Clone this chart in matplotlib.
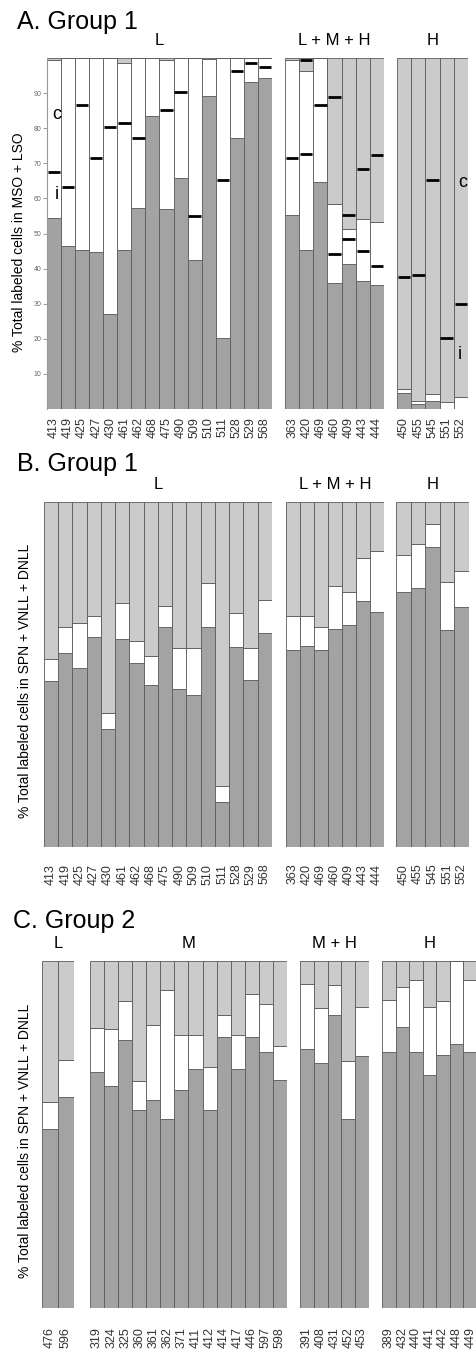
import matplotlib
matplotlib.use("Agg")
import matplotlib.pyplot as plt
import numpy as np

plt.rcParams['font.family'] = ['Liberation Sans', 'DejaVu Sans']

W, H = 477, 1357
DARK = '#a3a3a3'
LIGHT = '#cbcbcb'
EDGE = '#5a5a5a'

# ---- panel A: MSO + LSO, group 1 ----
a_L_ids = ['413', '419', '425', '427', '430', '461', '462', '468', '475', '490', '509', '510', '511', '528', '529', '568']
a_L_dark = [54.3, 46.3, 45.3, 44.6, 27.2, 45.3, 57.4, 83.5, 57.0, 65.7, 42.4, 89.3, 20.2, 77.1, 93.3, 94.4]
a_L_wtop = [99.4, 100, 100, 100, 100, 98.5, 100, 100, 99.5, 100, 100, 99.6, 100, 100, 100, 100]
a_L_mark = [67.6, 63.2, 86.6, 71.6, 80.4, 81.4, 77.3, np.nan, 85.1, 90.3, 54.9, np.nan, 65.2, 96.4, 98.6, 97.5]

a_LMH_ids = ['363', '420', '469', '460', '409', '443', '444']
a_LMH_dark = [55.4, 45.4, 64.7, 35.9, 41.3, 36.4, 35.2]
a_LMH_wtop = [99.4, 96.4, 100, 58.3, 51.3, 54.2, 53.2]
a_LMH_mark_hi = [71.4, 99.4, 86.7, 88.8, 55.4, 68.4, 72.4]
a_LMH_mark_lo = [np.nan, 72.6, np.nan, 44.2, 48.3, 45.1, 40.7]

a_H_ids = ['450', '455', '545', '551', '552']
a_H_dark = [4.6, 1.3, 2.2, 0, 0]
a_H_wtop = [5.8, 2.2, 4.3, 1.9, 3.4]
a_H_mark = [37.7, 38.2, 65.2, 20.1, 30.0]

# ---- panel B: SPN + VNLL + DNLL, group 1 ----
b_L_dark = [48.1, 56.3, 52.0, 61.0, 34.2, 60.4, 53.2, 47.0, 63.9, 45.9, 44.0, 63.9, 13.0, 58.0, 48.3, 62.1]
b_L_wtop = [54.4, 63.7, 64.8, 67.0, 38.8, 70.7, 59.7, 55.5, 69.8, 57.7, 57.7, 76.6, 17.7, 67.8, 57.7, 71.6]
b_LMH_dark = [57.2, 58.4, 57.2, 63.1, 64.3, 71.3, 68.1]
b_LMH_wtop = [67.0, 67.0, 63.8, 75.7, 73.9, 83.8, 85.7]
b_H_dark = [74.0, 75.1, 87.0, 62.8, 69.6]
b_H_wtop = [84.6, 87.9, 93.7, 76.8, 79.9]

# ---- panel C: SPN + VNLL + DNLL, group 2 ----
c_L_ids = ['476', '596']
c_L_dark = [51.7, 60.9]
c_L_wtop = [59.5, 71.4]
c_M_ids = ['319', '324', '325', '360', '361', '362', '371', '411', '412', '414', '417', '446', '597', '598']
c_M_dark = [67.9, 63.9, 77.1, 57.0, 59.9, 54.5, 62.7, 68.8, 57.0, 78.0, 68.8, 78.0, 73.7, 65.8]
c_M_wtop = [80.7, 80.5, 88.6, 65.4, 81.5, 91.5, 78.6, 78.6, 69.5, 84.5, 78.6, 90.5, 87.6, 75.4]
c_MH_ids = ['391', '408', '431', '452', '453']
c_MH_dark = [74.6, 70.7, 84.5, 54.5, 72.7]
c_MH_wtop = [93.4, 86.5, 93.2, 71.2, 86.7]
c_H_ids = ['389', '432', '440', '441', '442', '448', '449']
c_H_dark = [73.8, 81.1, 73.8, 67.1, 72.9, 76.1, 73.8]
c_H_wtop = [88.8, 92.5, 94.5, 86.8, 88.6, 100, 94.5]

fig = plt.figure(figsize=(W / 100, H / 100), dpi=100)


def add_ax(x0, x1, top, bottom):
    return fig.add_axes([x0 / W, 1 - bottom / H, (x1 - x0) / W, (bottom - top) / H])


def stack(ax, ids, dark, wtop, label, pad):
    x = np.arange(len(ids))
    dark = np.array(dark, float)
    wtop = np.array(wtop, float)
    kw = dict(width=1, edgecolor=EDGE, linewidth=0.6)
    ax.bar(x, dark, color=DARK, **kw)
    ax.bar(x, wtop - dark, bottom=dark, color='white', **kw)
    ax.bar(x, 100 - wtop, bottom=wtop, color=LIGHT, **kw)
    ax.set_xlim(-0.5, len(ids) - 0.5)
    ax.set_ylim(0, 100)
    ax.set_xticks(x)
    ax.set_xticklabels(ids, rotation=90, fontsize=9, color='#333333')
    ax.tick_params(axis='x', length=0, pad=pad)
    ax.set_yticks([])
    for s in ax.spines.values():
        s.set_visible(False)
    ax.annotate(label, (0.5, 1.0), xycoords='axes fraction', xytext=(0, 7),
                textcoords='offset points', ha='center', va='bottom', fontsize=12)


def marks(ax, vals):
    vals = np.array(vals, float)
    x = np.arange(len(vals))
    ok = ~np.isnan(vals)
    ax.hlines(vals[ok], x[ok] - 0.44, x[ok] + 0.44, colors='black', linewidth=2, zorder=5)


# Panel A
axA1 = add_ax(47, 272, 58, 409)
stack(axA1, a_L_ids, a_L_dark, a_L_wtop, 'L', 6)
marks(axA1, a_L_mark)
axA1.spines['left'].set_visible(True)
axA1.spines['left'].set_color('#999999')
axA1.set_yticks(range(10, 100, 10))
axA1.tick_params(axis='y', length=3, width=0.6, color='#888888', labelsize=5, labelcolor='#666666', pad=1)
axA1.text(0.2, 84, 'c', fontsize=13, ha='center', va='center')
axA1.text(0.2, 61, 'i', fontsize=13, ha='center', va='center')

axA2 = add_ax(285, 384, 58, 409)
stack(axA2, a_LMH_ids, a_LMH_dark, a_LMH_wtop, 'L + M + H', 6)
marks(axA2, a_LMH_mark_hi)
marks(axA2, a_LMH_mark_lo)

axA3 = add_ax(397, 468, 58, 409)
stack(axA3, a_H_ids, a_H_dark, a_H_wtop, 'H', 6)
marks(axA3, a_H_mark)
axA3.text(4.1, 64.5, 'c', fontsize=13, ha='center', va='center')
axA3.text(3.9, 15.5, 'i', fontsize=13, ha='center', va='center')

# Panel B
axB1 = add_ax(44, 272, 502, 847)
stack(axB1, a_L_ids, b_L_dark, b_L_wtop, 'L', 12)
axB2 = add_ax(286, 384, 502, 847)
stack(axB2, a_LMH_ids, b_LMH_dark, b_LMH_wtop, 'L + M + H', 12)
axB3 = add_ax(396, 469, 502, 847)
stack(axB3, a_H_ids, b_H_dark, b_H_wtop, 'H', 12)

# Panel C
axC1 = add_ax(42, 74, 961, 1308)
stack(axC1, c_L_ids, c_L_dark, c_L_wtop, 'L', 14)
axC2 = add_ax(90, 287, 961, 1308)
stack(axC2, c_M_ids, c_M_dark, c_M_wtop, 'M', 14)
axC3 = add_ax(300, 369, 961, 1308)
stack(axC3, c_MH_ids, c_MH_dark, c_MH_wtop, 'M + H', 14)
axC4 = add_ax(382, 477, 961, 1308)
stack(axC4, c_H_ids, c_H_dark, c_H_wtop, 'H', 14)

# titles and axis labels
fig.text(17 / W, 1 - 22 / H, 'A. Group 1', fontsize=18, va='center')
fig.text(17 / W, 1 - 464 / H, 'B. Group 1', fontsize=18, va='center')
fig.text(13 / W, 1 - 921 / H, 'C. Group 2', fontsize=18, va='center')
fig.text(19 / W, 1 - 242 / H, '% Total labeled cells in MSO + LSO', rotation=90,
         fontsize=10, ha='center', va='center')
fig.text(25 / W, 1 - 681 / H, '% Total labeled cells in SPN + VNLL + DNLL', rotation=90,
         fontsize=10, ha='center', va='center')
fig.text(25 / W, 1 - 1141 / H, '% Total labeled cells in SPN + VNLL + DNLL', rotation=90,
         fontsize=10, ha='center', va='center')

fig.savefig('out.png', dpi=100)
